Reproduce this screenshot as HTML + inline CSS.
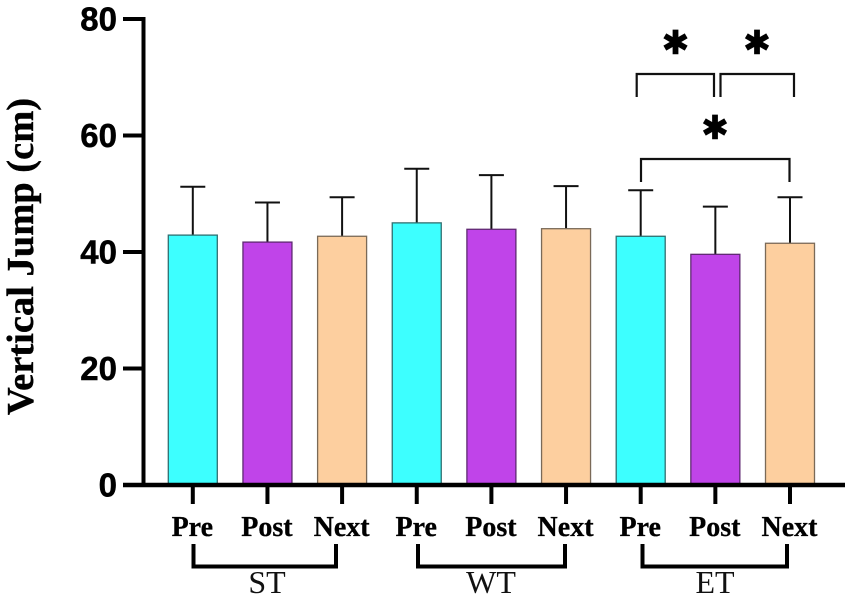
<!DOCTYPE html>
<html>
<head>
<meta charset="utf-8">
<style>
html,body{margin:0;padding:0;background:#fff;}
svg{display:block;}
.tick-num{font:bold 33px "Liberation Sans",sans-serif;fill:#000;stroke:#000;stroke-width:0.5px;text-anchor:end;}
.cat{font:bold 28px "Liberation Serif",serif;fill:#000;stroke:#000;stroke-width:0.3px;text-anchor:middle;}
.grp{font:32px "Liberation Serif",serif;fill:#111;text-anchor:middle;}
.star{font:bold 33px "DejaVu Sans",sans-serif;fill:#000;stroke:#000;stroke-width:0.6px;text-anchor:middle;}
</style>
</head>
<body>
<svg id="chart" width="851" height="600" viewBox="0 0 851 600" xmlns="http://www.w3.org/2000/svg">
  <rect x="0" y="0" width="851" height="600" fill="#fff"/>
  <g id="marks"></g>
  <g id="axes"></g>
  <text transform="translate(33,256.500) rotate(-90)" text-anchor="middle" style="font:bold 38.500px 'Liberation Serif',serif;fill:#000;stroke:#000;stroke-width:0.4px;">Vertical Jump (cm)</text>
  <g fill="none" stroke="#000" stroke-width="4">
    <path d="M193.500 544V566.500H336V544"/>
  </g>
  <g fill="none" stroke="#000" stroke-width="4">
    <path d="M418 544V566.500H565V544"/>
  </g>
  <g fill="none" stroke="#000" stroke-width="4">
    <path d="M642.500 544V566.500H787V544"/>
  </g>
  <text class="grp" x="267" y="593">ST</text>
  <text class="grp" x="491" y="593">WT</text>
  <text class="grp" x="715" y="593">ET</text>
  <g fill="none" stroke="#111" stroke-width="2.2">
    <path d="M636.700 97V74H714V97"/>
    <path d="M720.500 97V74H794V97"/>
    <path d="M641 182V159H789.500V182"/>
  </g>
  <text class="star" x="675.500" y="54">✱</text>
  <text class="star" x="757" y="54">✱</text>
  <text class="star" x="715" y="139">✱</text>
</svg>
<script>
const categories = ["Pre","Post","Next","Pre","Post","Next","Pre","Post","Next"];
const means = [42.9,41.7,42.7,45.0,43.9,44.0,42.7,39.6,41.5];
const errorTops = [51.2,48.5,49.4,54.3,53.2,51.3,50.6,47.8,49.4];
const yTickLabels = [0,20,40,60,80];
const barKinds = ["pre","post","next","pre","post","next","pre","post","next"];
const kindFill = {pre:"#3dffff",post:"#c044e9",next:"#fdcf9f"};
const kindStroke = {pre:"#2f6f70",post:"#5f2a72",next:"#7a6a58"};

const NS = "http://www.w3.org/2000/svg";
function yScale(v){ return 485 - v * (466 / 80); }
function xScale(i){ return 192.8 + i * 74.65; }
const BAR_W = 49;
const CAP = 25;
const marks = document.getElementById("marks");
const axes = document.getElementById("axes");

function make(tag, attrs, parent){
  const el = document.createElementNS(NS, tag);
  for (const k in attrs) el.setAttribute(k, attrs[k]);
  parent.appendChild(el);
  return el;
}

categories.forEach(function(cat, i){
  const cx = xScale(i);
  const kind = barKinds[i];
  const stem = make("line", {x1:cx, x2:cx, y1:yScale(means[i]), y2:yScale(errorTops[i]), stroke:"#111", "stroke-width":2}, marks);
  
  
  const cap = make("line", {x1:cx-CAP/2, x2:cx+CAP/2, y1:yScale(errorTops[i]), y2:yScale(errorTops[i]), stroke:"#111", "stroke-width":2}, marks);
  
  
  const bar = make("rect", {x:cx-BAR_W/2, y:yScale(means[i]), width:BAR_W, height:yScale(0)-yScale(means[i]), fill:kindFill[kind], stroke:kindStroke[kind], "stroke-width":1.3}, marks);
  
  
  const tick = make("line", {x1:cx, x2:cx, y1:485, y2:504, stroke:"#000", "stroke-width":4}, axes);
  
  
  const label = make("text", {x:cx - 0.5, y:536, class:"cat"}, axes);
  
  
  label.textContent = cat;
});

const yAxis = make("line", {x1:143.5, x2:143.5, y1:17, y2:487, stroke:"#000", "stroke-width":4}, axes);


const xAxis = make("line", {x1:123, x2:845, y1:485, y2:485, stroke:"#000", "stroke-width":4.5}, axes);



yTickLabels.forEach(function(t){
  const y = yScale(t);
  const tick = make("line", {x1:123, x2:145, y1:y, y2:y, stroke:"#000", "stroke-width":4}, axes);
  
  
  const label = make("text", {x:117, y:y + 11.5, class:"tick-num"}, axes);
  
  
  label.textContent = t;
});
</script>
</body>
</html>
